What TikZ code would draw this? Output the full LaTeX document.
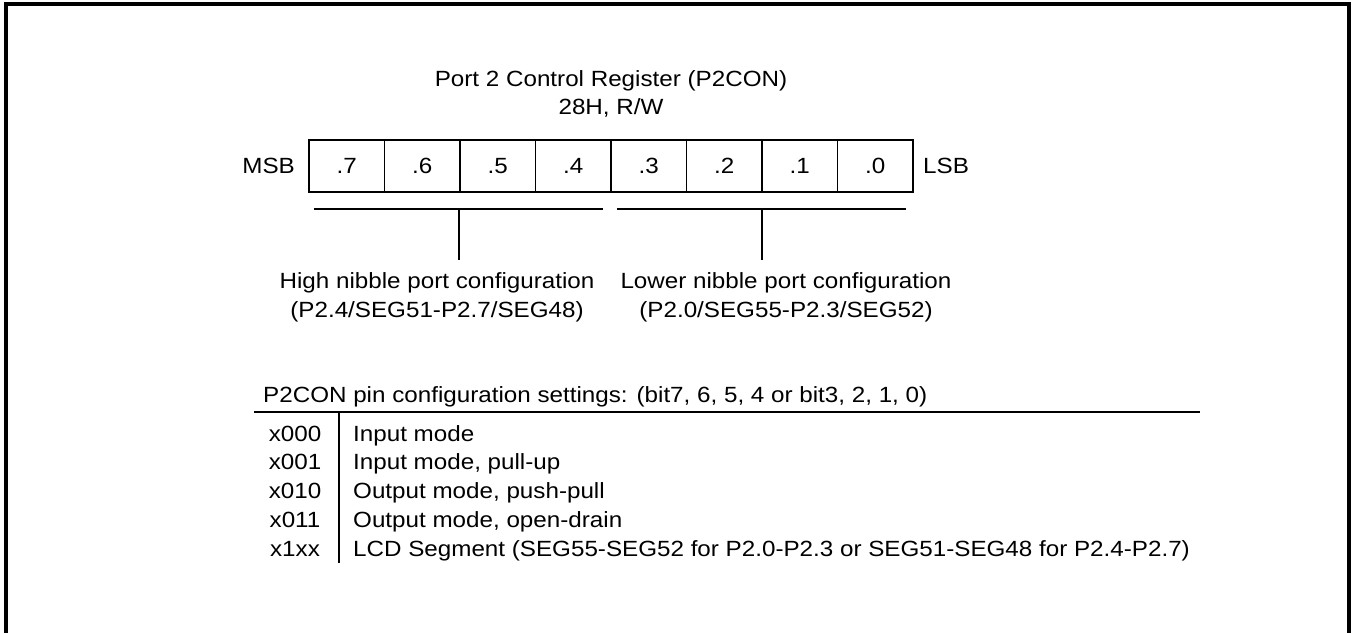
\documentclass[tikz,border=0pt]{standalone}
\usepackage{fontspec}
\setmainfont{Liberation Sans}[FakeStretch=1.1]
\begin{document}
\begin{tikzpicture}[x=1pt,y=-1pt,
  txt/.style={inner sep=0pt, font=\fontsize{22}{29}\selectfont},
  cell/.style={draw, line width=1.6pt, minimum width=75.5pt, minimum height=52pt, inner sep=0pt, font=\fontsize{22}{28}\selectfont},
  thin/.style={line width=1.6pt},
  frame/.style={line width=4pt}]
\useasboundingbox (0,0) rectangle (1355,632);
\clip (0,0) rectangle (1355,632);
% outer frame
\coordinate (fbl) at (6,700);
\coordinate (ftl) at (6,4);
\coordinate (ftr) at (1349,4);
\coordinate (fbr) at (1349,700);
\draw[frame] (fbl) -- (ftl) -- (ftr) -- (fbr);
% title
\node[txt, anchor=base] (title) at (611,86) {Port 2 Control Register (P2CON)};
\node[txt, anchor=base] (addr) at (611,114) {28H, R/W};
% register cells
\foreach \b [count=\i from 0] in {7,6,5,4,3,2,1,0} {
  \node[cell] (c\b) at ({309+75.5*(\i+0.5)},166) {.\b};
}
\node[txt, anchor=east] (msb) at (295,166) {MSB};
\node[txt, anchor=west] (lsb) at (923,166) {LSB};
% brackets
\coordinate (hl) at (314,209);
\coordinate (hr) at (603,209);
\coordinate (hs) at (459,209);
\coordinate (hsb) at (459,260);
\coordinate (ll) at (617,209);
\coordinate (lr) at (906,209);
\coordinate (ls) at (762,209);
\coordinate (lsb2) at (762,260);
\draw[thin] (hl) -- (hr);
\draw[thin] (hs) -- (hsb);
\draw[thin] (ll) -- (lr);
\draw[thin] (ls) -- (lsb2);
\node[txt, align=center, anchor=base] (hi) at (437,317) {High nibble port configuration\\(P2.4/SEG51-P2.7/SEG48)};
\node[txt, align=center, anchor=base] (lo) at (786,317) {Lower nibble port configuration\\(P2.0/SEG55-P2.3/SEG52)};
% table
\node[txt, anchor=base west] (ttitle) at (263,402) {P2CON pin configuration settings: (bit7, 6, 5, 4 or bit3, 2, 1, 0)};
\coordinate (tl) at (254,412);
\coordinate (tr) at (1200,412);
\coordinate (vt) at (339,412);
\coordinate (vb) at (339,563);
\draw[thin] (tl) -- (tr);
\draw[thin] (vt) -- (vb);
\foreach \code/\desc [count=\k from 0] in {x000/Input mode, x001/{Input mode, pull-up}, x010/{Output mode, push-pull}, x011/{Output mode, open-drain}, x1xx/{LCD Segment (SEG55-SEG52 for P2.0-P2.3 or SEG51-SEG48 for P2.4-P2.7)}} {
  \node[txt, anchor=base] (code\k) at (295,{441+28.75*\k}) {\code};
  \node[txt, anchor=base west] (desc\k) at (353,{441+28.75*\k}) {\desc};
}
\end{tikzpicture}
\end{document}
